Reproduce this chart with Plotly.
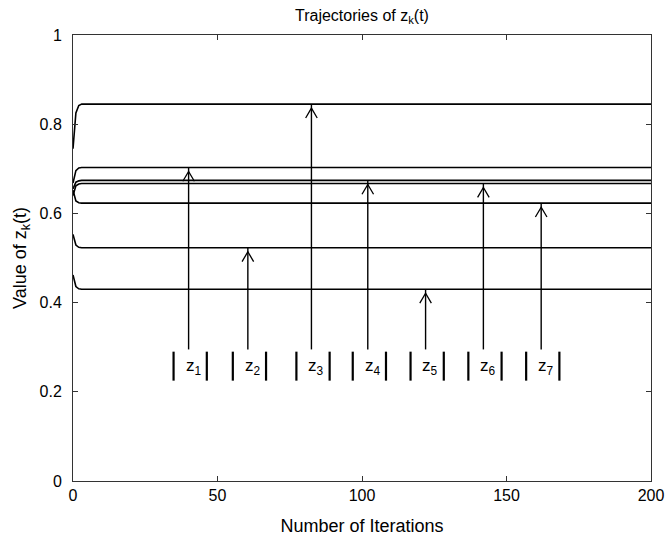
import plotly.graph_objects as go

# ---- data ----
iterations = [0, 1, 2, 3, 200]
traj_z3 = [0.745, 0.825, 0.842, 0.845, 0.845]
traj_z1 = [0.668, 0.696, 0.702, 0.703, 0.703]
traj_z4 = [0.655, 0.670, 0.673, 0.674, 0.674]
traj_z6 = [0.640, 0.662, 0.666, 0.667, 0.667]
traj_z7 = [0.652, 0.628, 0.624, 0.623, 0.623]
traj_z2 = [0.553, 0.529, 0.524, 0.523, 0.523]
traj_z5 = [0.462, 0.436, 0.431, 0.430, 0.430]
trajectories = [traj_z3, traj_z1, traj_z4, traj_z6, traj_z7, traj_z2, traj_z5]

labels = ["1", "2", "3", "4", "5", "6", "7"]
label_x = [40, 60.5, 82.5, 102, 122, 142, 162]
label_target = [0.703, 0.523, 0.845, 0.674, 0.430, 0.667, 0.623]

x_ticks = [0, 50, 100, 150, 200]
y_ticks = [0, 0.2, 0.4, 0.6, 0.8, 1]
y_tick_text = ["0", "0.2", "0.4", "0.6", "0.8", "1"]

# ---- figure ----
fig = go.Figure()
for tr in trajectories:
    fig.add_trace(go.Scatter(x=iterations, y=tr, mode="lines",
                             line=dict(color="black", width=1.6),
                             hoverinfo="skip", showlegend=False))

arrow_bottom = 0.295
bar_lo, bar_hi = 0.225, 0.29
for lx, tgt, lab in zip(label_x, label_target, labels):
    # arrow shaft
    fig.add_trace(go.Scatter(x=[lx, lx], y=[arrow_bottom, tgt], mode="lines",
                             line=dict(color="black", width=1.4),
                             hoverinfo="skip", showlegend=False))
    # open arrowhead
    tip = tgt - 0.009
    fig.add_trace(go.Scatter(x=[lx - 2.0, lx, lx + 2.0], y=[tip - 0.022, tip, tip - 0.022],
                             mode="lines", line=dict(color="black", width=1.3),
                             hoverinfo="skip", showlegend=False))
    # bars around the label
    for bx in (lx - 5.2, lx + 6.3):
        fig.add_trace(go.Scatter(x=[bx, bx], y=[bar_lo, bar_hi], mode="lines",
                                 line=dict(color="black", width=2.2),
                                 hoverinfo="skip", showlegend=False))
    fig.add_annotation(x=lx + 1.7, y=0.255, xref="x", yref="y",
                       text="z<sub>" + lab + "</sub>", showarrow=False,
                       font=dict(family="Liberation Sans, Arial", size=17, color="black"),
                       xanchor="center", yanchor="middle")

font = dict(family="Liberation Sans, Arial, sans-serif", size=15, color="black")
fig.update_layout(
    width=666, height=542,
    margin=dict(l=73, r=15, t=35, b=61),
    paper_bgcolor="white", plot_bgcolor="white",
    font=font,
    title=dict(text="Trajectories of z<sub>k</sub>(t)", x=0.5435, xanchor="center",
               y=0.972, yanchor="middle", font=dict(size=16)),
    xaxis=dict(range=[0, 200], tickvals=x_ticks, ticks="inside", ticklen=5,
               showgrid=False, zeroline=False, showline=True, linecolor="#333",
               linewidth=1, mirror="ticks", tickcolor="#333", automargin=False,
               title=dict(text="Number of Iterations", standoff=16),
               tickfont=dict(size=16)),
    yaxis=dict(range=[0, 1], tickvals=y_ticks, ticktext=y_tick_text, ticks="inside",
               ticklen=5, showgrid=False, zeroline=False, showline=True,
               linecolor="#333", linewidth=1, mirror="ticks", tickcolor="#333",
               ticklabelstandoff=7,
               title=dict(text="Value of z<sub>k</sub>(t)", standoff=8),
               tickfont=dict(size=16)),
)
page_fix = ("document.documentElement.style.margin='0';"
            "document.documentElement.style.overflow='hidden';"
            "document.body.style.margin='0';"
            "document.body.style.overflow='hidden';")
fig.write_html("out.html", post_script=page_fix,
               config={"displayModeBar": False})
